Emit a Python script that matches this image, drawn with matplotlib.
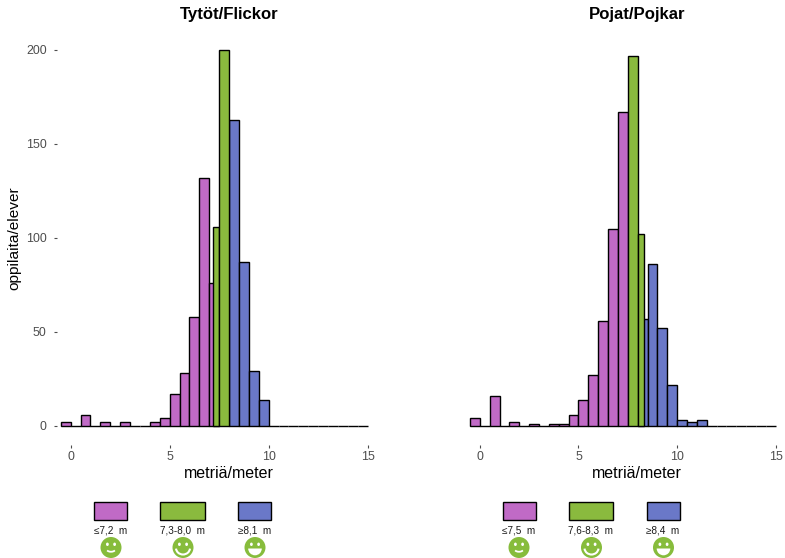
import numpy as np
import matplotlib
matplotlib.use("Agg")
import matplotlib.pyplot as plt
from matplotlib.patches import Rectangle, Circle, Arc, Wedge, Ellipse

plt.rcParams['font.family'] = ['Liberation Sans', 'DejaVu Sans']

# ---- data: bin edges and counts ----
girls_low_edges = [-0.5, 0, 0.5, 1, 1.5, 2, 2.5, 3, 3.5, 4, 4.5, 5, 5.5, 6, 6.5, 7, 7.5]
girls_low_counts = [2, 0, 6, 0, 2, 0, 2, 0, 0, 2, 4, 17, 28, 58, 132, 76]
girls_mid_edges = [7.2, 7.5, 8.0]
girls_mid_counts = [106, 200]
girls_high_edges = [8, 8.5, 9, 9.5, 10, 10.5, 11, 11.5, 12, 12.5, 13, 13.5, 14, 14.5, 15]
girls_high_counts = [163, 87, 29, 14, 0, 0, 0, 0, 0, 0, 0, 0, 0, 0]

boys_low_edges = [-0.5, 0, 0.5, 1, 1.5, 2, 2.5, 3, 3.5, 4, 4.5, 5, 5.5, 6, 6.5, 7, 7.5]
boys_low_counts = [4, 0, 16, 0, 2, 0, 1, 0, 1, 1, 6, 14, 27, 56, 105, 167]
boys_mid_edges = [7.5, 8.0, 8.3]
boys_mid_counts = [197, 102]
boys_high_edges = [8, 8.5, 9, 9.5, 10, 10.5, 11, 11.5, 12, 12.5, 13, 13.5, 14, 14.5, 15]
boys_high_counts = [57, 86, 52, 22, 3, 2, 3, 0, 0, 0, 0, 0, 0, 0]

x_ticks = [0, 5, 10, 15]
y_ticks = [0, 50, 100, 150, 200]
girls_labels = ["≤7,2  m", "7,3-8,0  m", "≥8,1  m"]
boys_labels = ["≤7,5  m", "7,6-8,3  m", "≥8,4  m"]

PURPLE, GREEN, BLUE = "#C06AC6", "#8ABA3E", "#6A78C8"
W, H = 785, 558
fig = plt.figure(figsize=(W / 100, H / 100), dpi=100)


def make_axes(left, right, x0_px, x15_px):
    sc = (x15_px - x0_px) / 15
    top, bottom = 31.2, 444.8
    ax = fig.add_axes([left / W, 1 - bottom / H, (right - left) / W, (bottom - top) / H])
    ax.set_xlim((left - x0_px) / sc, (right - x0_px) / sc)
    ax.set_ylim(-10, 210)
    for s in ax.spines.values():
        s.set_visible(False)
    ax.patch.set_alpha(0)
    return ax


def hist(ax, edges, counts, color):
    e = np.asarray(edges, float)
    ax.bar(e[:-1], counts, width=np.diff(e), align='edge', color=color,
           edgecolor='black', linewidth=1.0)


axL = make_axes(56.5, 401.5, 70.6, 367.6)
axR = make_axes(455.0, 785.0, 479.8, 775.8)

for ax, lo, hi, mi in [
    (axL, (girls_low_edges, girls_low_counts), (girls_high_edges, girls_high_counts), (girls_mid_edges, girls_mid_counts)),
    (axR, (boys_low_edges, boys_low_counts), (boys_high_edges, boys_high_counts), (boys_mid_edges, boys_mid_counts)),
]:
    hist(ax, *lo, PURPLE)
    hist(ax, *hi, BLUE)
    hist(ax, *mi, GREEN)
    ax.set_xticks(x_ticks)
    ax.tick_params(axis='x', length=2.2, width=0.8, color='#4D4D4D', labelsize=8.9,
                   labelcolor='#4D4D4D', pad=2.6)
    ax.set_xlabel("metriä/meter", fontsize=11.5, labelpad=0)

axL.xaxis.set_label_coords(0.5, -0.0515)
axR.xaxis.set_label_coords((637.0 - 455.0) / 330.0, -0.0515)
axL.set_yticks(y_ticks)
axL.tick_params(axis='y', length=2.5, width=0.8, color='#4D4D4D', labelsize=8.9,
                labelcolor='#4D4D4D', pad=4.6)
axL.set_ylabel("oppilaita/elever", fontsize=11.1)
axL.yaxis.set_label_coords((21.0 - 56.5) / 345.0, 0.5)
axR.set_yticks([])

# overlay in pixel coordinates for the hand-made legends
ov = fig.add_axes([0, 0, 1, 1])
ov.set_xlim(0, W)
ov.set_ylim(H, 0)
ov.axis('off')
ov.patch.set_alpha(0)

ov.text(229, 15, "Tytöt/Flickor", ha='center', va='center', fontsize=12.1, fontweight='bold')
ov.text(637, 15, "Pojat/Pojkar", ha='center', va='center', fontsize=12.1, fontweight='bold')


def smiley(cx, cy, kind):
    r = 10.5
    c = "#87BC3C"
    ov.add_patch(Circle((cx, cy), r, fc=c, ec='none'))
    for dx in (-3.6, 3.6):
        ov.add_patch(Ellipse((cx + dx, cy - 3.2), 2.8, 3.4, fc='white', ec='none'))
    if kind == 0:
        ov.add_patch(Arc((cx, cy + 1.5), 9, 5.5, theta1=20, theta2=160, ec='white', lw=1.3))
    elif kind == 1:
        ov.add_patch(Arc((cx, cy + 0.5), 14, 13, theta1=5, theta2=175, ec='white', lw=1.5))
    else:
        ov.add_patch(Wedge((cx, cy + 1.0), 6.8, 0, 180, fc='white', ec='none'))


def legend(boxes, faces, labels):
    for (x0, x1), fc, lab, fx, k in zip(boxes, (PURPLE, GREEN, BLUE), labels, faces, range(3)):
        ov.add_patch(Rectangle((x0, 502), x1 - x0, 18, fc=fc, ec='black', lw=1.0))
        ov.text((x0 + x1) / 2, 530.5, lab, ha='center', va='center', fontsize=7.2, color='#1A1A1A')
        smiley(fx, 547.5, k)


legend([(94, 127), (160, 204.5), (238, 271)], [111, 183, 255], girls_labels)
legend([(502.5, 535.5), (568.5, 613), (646.5, 679.5)], [519, 591.5, 663.5], boys_labels)

fig.savefig("out.png", dpi=100)
